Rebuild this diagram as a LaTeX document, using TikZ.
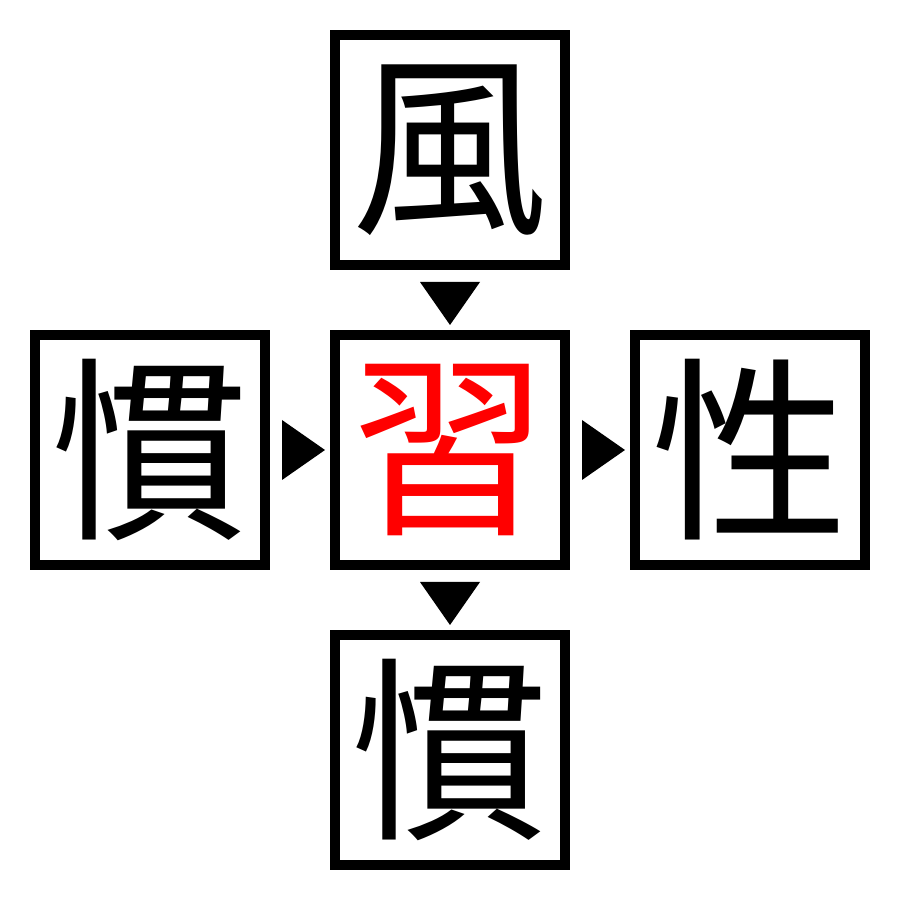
\documentclass[tikz,border=0pt]{standalone}
\usepackage{fontspec}
\newfontfamily\cjk{Noto Sans CJK JP}
\usetikzlibrary{calc}

\begin{document}
\begin{tikzpicture}
\tikzstyle{kanji}=[draw=black, line width=1mm, minimum size=2.3cm, inner sep=0pt, font=\cjk\fontsize{56}{56}\selectfont]
\useasboundingbox (0,0) rectangle (9,9);
\node [kanji] (top) at (4.5,7.5) {風};
\node [kanji] (lft) at (1.5,4.5) {慣};
\node [kanji, text=red] (ctr) at (4.5,4.5) {習};
\node [kanji] (rgt) at (7.5,4.5) {性};
\node [kanji] (bot) at (4.5,1.5) {慣};
% markers between the boxes
\fill [black] ($(top.south)+(-0.3,-0.12)$) -- ($(ctr.north)+(0,0.05)$) -- ($(top.south)+(0.3,-0.12)$) -- cycle;
\fill [black] ($(lft.east)+(0.12,0.3)$) -- ($(ctr.west)+(-0.05,0)$) -- ($(lft.east)+(0.12,-0.3)$) -- cycle;
\fill [black] ($(ctr.east)+(0.12,0.3)$) -- ($(rgt.west)+(-0.05,0)$) -- ($(ctr.east)+(0.12,-0.3)$) -- cycle;
\fill [black] ($(ctr.south)+(-0.3,-0.12)$) -- ($(bot.north)+(0,0.05)$) -- ($(ctr.south)+(0.3,-0.12)$) -- cycle;
\end{tikzpicture}
\end{document}
